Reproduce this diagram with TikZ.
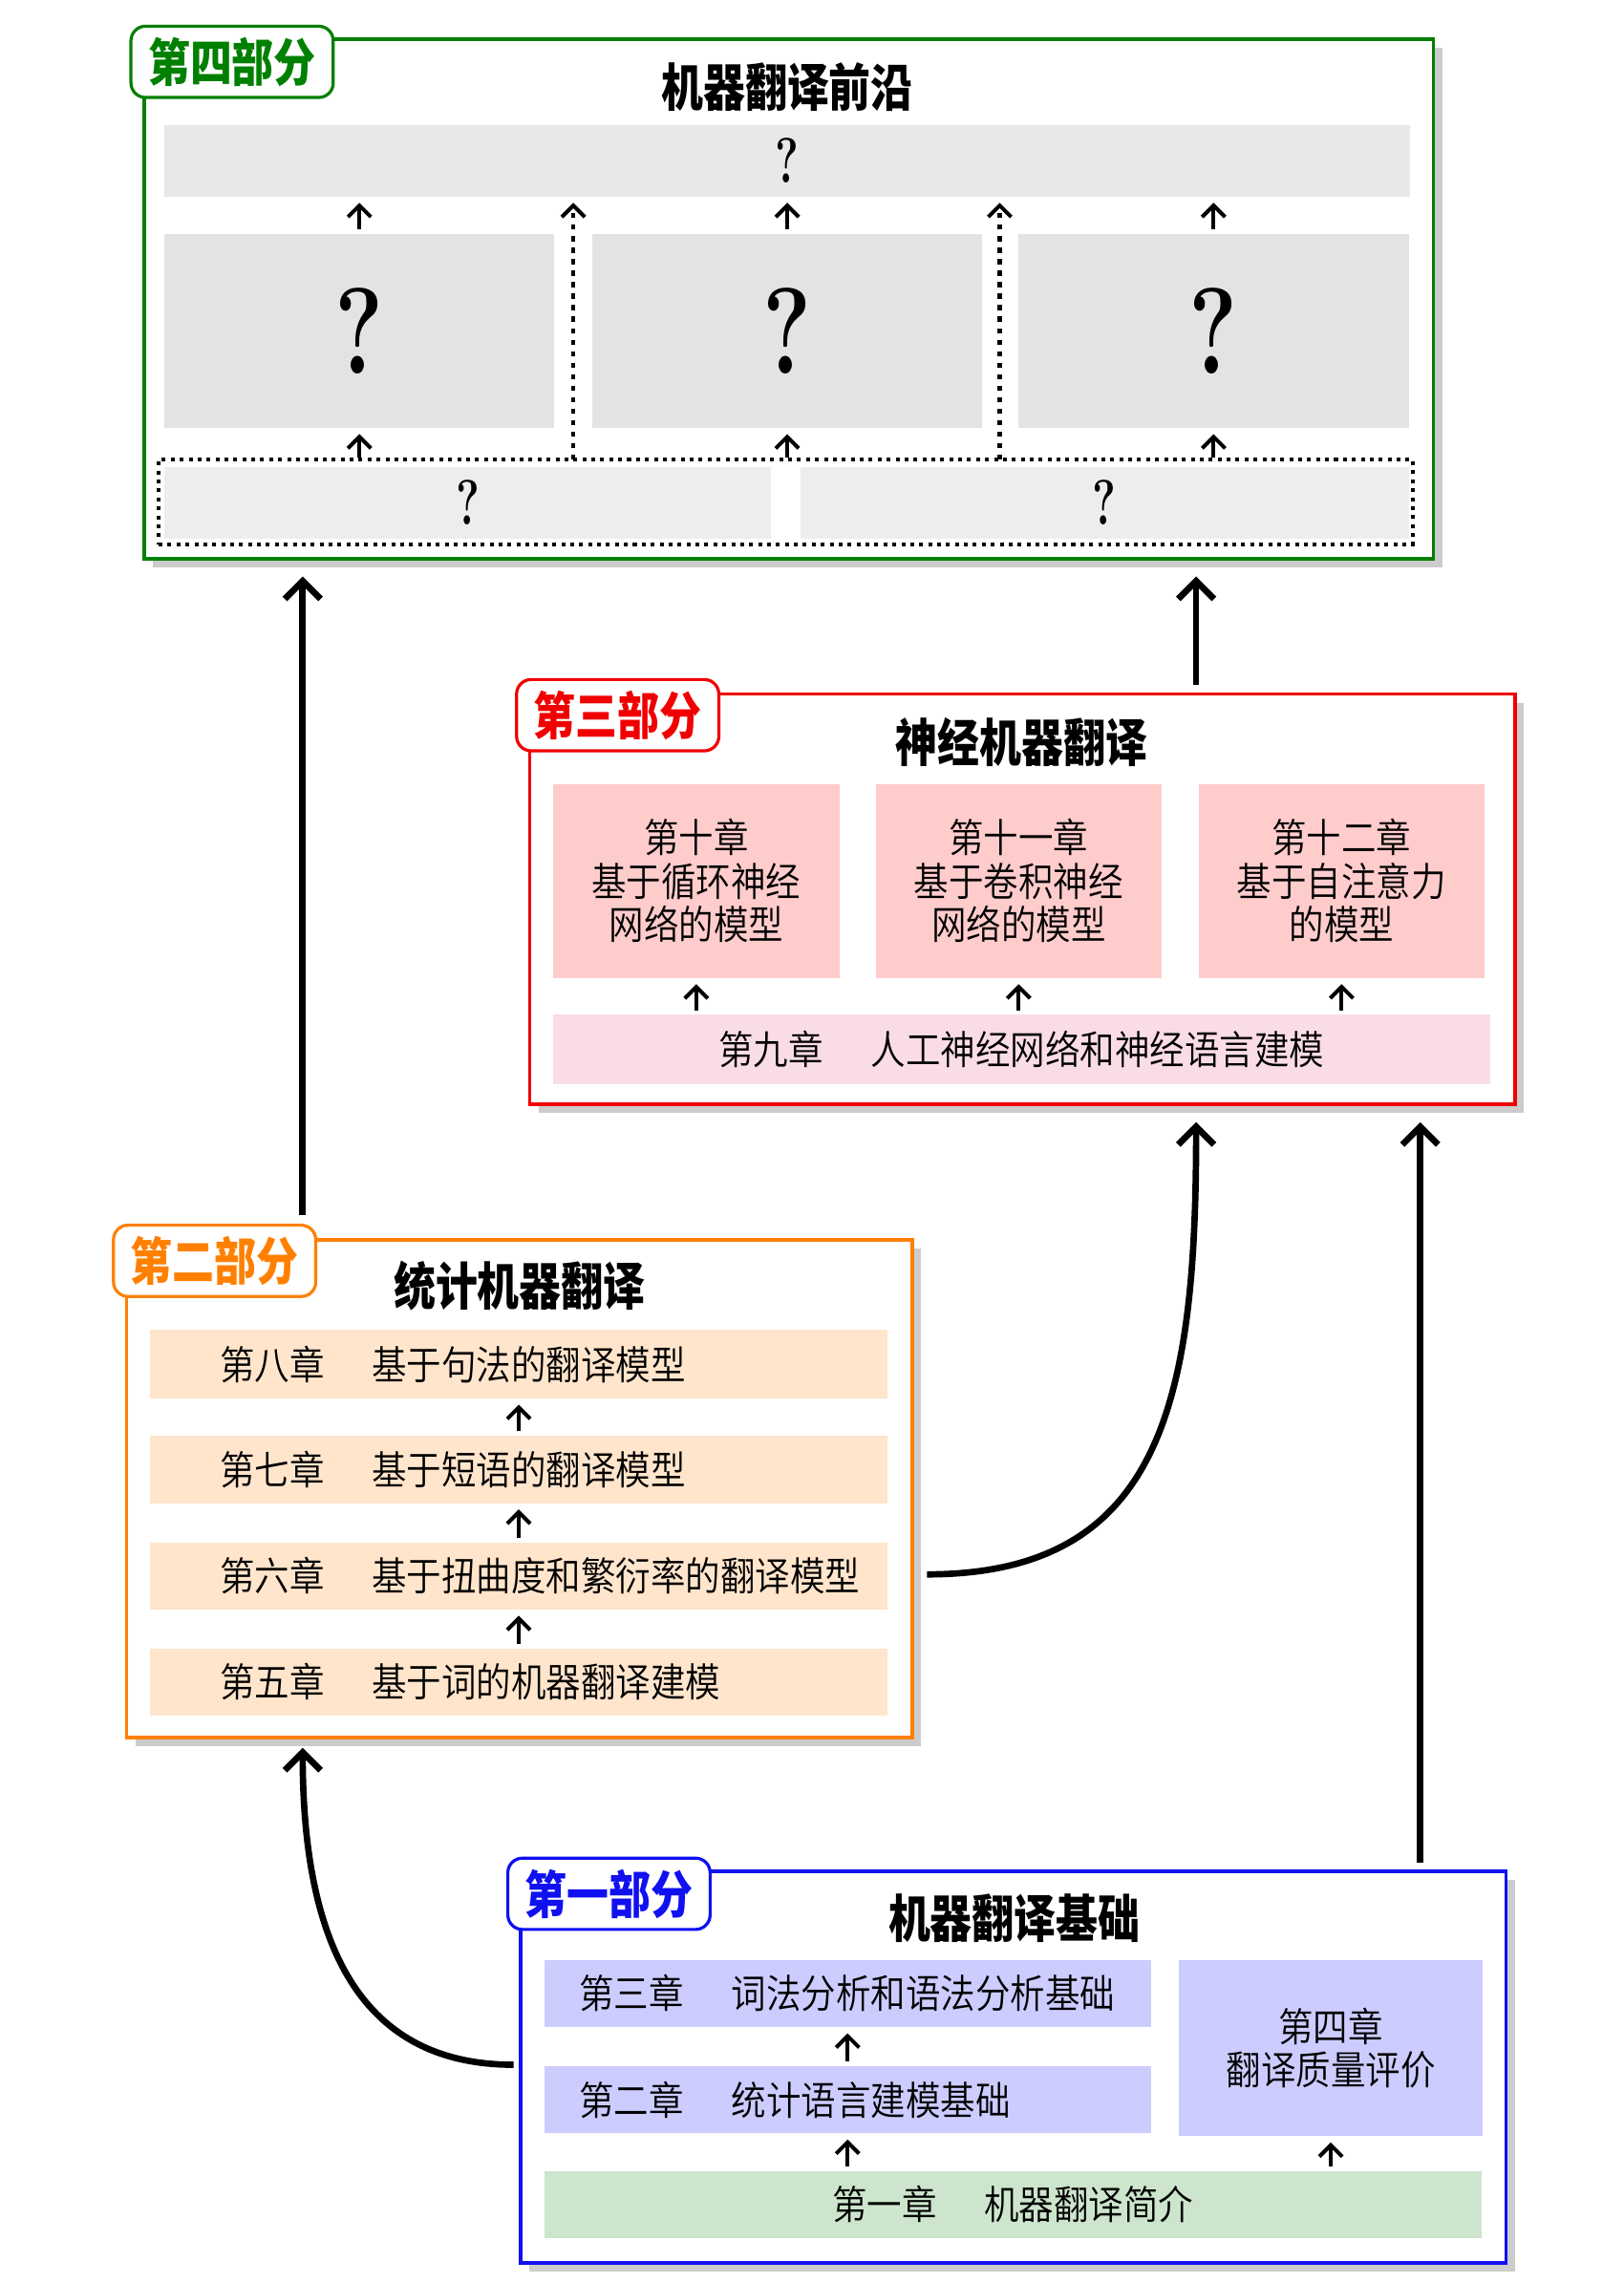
\documentclass[tikz,border=0pt]{standalone}
\usepackage{fontspec}
\usepackage{graphicx}
\usepackage{tikz}
\usetikzlibrary{positioning,arrows.meta,shadows}
\IfFontExistsTF{Noto Sans CJK SC DemiLight}
  {\newfontfamily\cjk[FakeStretch=0.88]{Noto Sans CJK SC DemiLight}}
  {\newfontfamily\cjk[FakeStretch=0.88]{Noto Sans CJK SC}}
\IfFontExistsTF{Noto Sans CJK SC Black}
  {\newfontfamily\cjkb[FakeStretch=0.82]{Noto Sans CJK SC Black}}
  {\newfontfamily\cjkb[FakeStretch=0.82,FakeBold=2]{Noto Sans CJK SC}}

\definecolor{partfour}{HTML}{008000}
\definecolor{partthree}{HTML}{F00000}
\definecolor{parttwo}{HTML}{FF8000}
\definecolor{partone}{HTML}{1010F0}
\definecolor{qtop}{HTML}{E8E8E8}
\definecolor{qmid}{HTML}{E3E3E3}
\definecolor{qlow}{HTML}{EDEDED}
\definecolor{nmt}{HTML}{FFCCCC}
\definecolor{nnlm}{HTML}{F9DCE6}
\definecolor{smt}{HTML}{FFE5CC}
\definecolor{base}{HTML}{CCCCFF}
\definecolor{intro}{HTML}{CCE5CC}

\newcommand{\qsmall}{{\fontsize{25}{25}\selectfont\bfseries\scalebox{0.7}[1]{?}}}
\newcommand{\qbig}{{\fontsize{48}{48}\selectfont\bfseries\scalebox{0.75}[1]{?}}}

\begin{document}
\begin{tikzpicture}[x=0.02cm, y=-0.02cm,
    sz/.style 2 args={minimum width=#1*0.02cm, minimum height=#2*0.02cm},
    partbox/.style={draw=#1, line width=1.4pt, fill=white, inner sep=0pt,
      drop shadow={shadow xshift=0.12cm, shadow yshift=-0.12cm, fill=black!20, opacity=1}},
    parttag/.style={draw=#1, line width=1.2pt, fill=white, rounded corners=0.2cm,
      text=#1, font=\cjkb\fontsize{20}{20}\selectfont, sz={139}{49}, inner sep=0pt},
    parttitle/.style={font=\cjkb\fontsize{20}{20}\selectfont},
    chapbox/.style={fill=#1, inner sep=0pt, align=center, font=\cjk\fontsize{15.5}{17}\selectfont},
    chaptext/.style={inner sep=0pt, anchor=west, font=\cjk\fontsize{15.5}{17}\selectfont},
    uparrow/.style={-{Straight Barb[length=4.5pt,width=9pt]}, line width=1.5pt, shorten >=0.08cm},
    bigarrow/.style={-{Straight Barb[length=7pt,width=14pt]}, line width=2.5pt},
  ]
  \useasboundingbox (0,0) rectangle (1116,1569);

  % part four
  \node[partbox=partfour, sz={886}{357}] (frame4) at (542,205.5) {};
  \node[parttag=partfour] (tag4) at (159.5,42.5) {第四部分};
  \node[parttitle] (title4) at (541,60) {机器翻译前沿};
  \node[fill=qtop, inner sep=0pt, sz={856}{49}] (top4) at (541,110.5) {\qsmall};
  \node[fill=qmid, inner sep=0pt, sz={268}{133}] (q4a) at (247,227.5) {\qbig};
  \node[fill=qmid, inner sep=0pt, sz={268}{133}] (q4b) at (541,227.5) {\qbig};
  \node[fill=qmid, inner sep=0pt, sz={268}{133}] (q4c) at (834,227.5) {\qbig};
  \node[draw, dash pattern=on 1.5pt off 2pt, line width=1.5pt, inner sep=0pt, sz={862}{58}] (low4) at (540,345) {};
  \node[fill=qlow, inner sep=0pt, sz={417}{49}] (low4a) at (321.5,345.5) {\qsmall};
  \node[fill=qlow, inner sep=0pt, sz={418}{49}] (low4b) at (759,345.5) {\qsmall};
  \coordinate (gapl) at (394,316);
  \coordinate (gapr) at (687,316);
  \path[uparrow]
  (low4.north -| q4a) edge (q4a)
  (low4.north -| q4b) edge (q4b)
  (low4.north -| q4c) edge (q4c);
  \path[uparrow, shorten <=0.06cm]
  (q4a) edge (q4a |- top4.south)
  (q4b) edge (q4b |- top4.south)
  (q4c) edge (q4c |- top4.south);
  \path[uparrow, dash pattern=on 2pt off 2.5pt]
  (gapl) edge (gapl |- top4.south)
  (gapr) edge (gapr |- top4.south);

  % part three
  \node[partbox=partthree, sz={677}{282}] (frame3) at (702.5,618) {};
  \node[parttag=partthree] (tag3) at (424.5,491.5) {第三部分};
  \node[parttitle] (title3) at (702,510) {神经机器翻译};
  \node[chapbox=nmt, sz={197}{133}] (ch10) at (478.5,605.5) {第十章\\基于循环神经\\网络的模型};
  \node[chapbox=nmt, sz={196}{133}] (ch11) at (700,605.5) {第十一章\\基于卷积神经\\网络的模型};
  \node[chapbox=nmt, sz={196}{133}] (ch12) at (922,605.5) {第十二章\\基于自注意力\\的模型};
  \node[chapbox=nnlm, sz={644}{48}] (ch9) at (702,721) {第九章\hspace{1.2em}人工神经网络和神经语言建模};
  \path[uparrow, shorten <=0.04cm]
  (ch9.north -| ch10) edge (ch10)
  (ch9.north -| ch11) edge (ch11)
  (ch9.north -| ch12) edge (ch12);

  % part two
  \node[partbox=parttwo, sz={540}{342}] (frame2) at (357,1023) {};
  \node[parttag=parttwo] (tag2) at (147.5,866.5) {第二部分};
  \node[parttitle] (title2) at (357,884) {统计机器翻译};
  \node[chapbox=smt, sz={507}{47}] (ch8) at (356.5,937.5) {};
  \node[chapbox=smt, sz={507}{46}] (ch7) at (356.5,1010) {};
  \node[chapbox=smt, sz={507}{46}] (ch6) at (356.5,1083) {};
  \node[chapbox=smt, sz={507}{46}] (ch5) at (356.5,1156) {};
  \node[chaptext] (t8) at ([xshift=0.96cm]ch8.west) {第八章\hspace{1.2em}基于句法的翻译模型};
  \node[chaptext] (t7) at ([xshift=0.96cm]ch7.west) {第七章\hspace{1.2em}基于短语的翻译模型};
  \node[chaptext] (t6) at ([xshift=0.96cm]ch6.west) {第六章\hspace{1.2em}基于扭曲度和繁衍率的翻译模型};
  \node[chaptext] (t5) at ([xshift=0.96cm]ch5.west) {第五章\hspace{1.2em}基于词的机器翻译建模};
  \path[uparrow, shorten <=0.06cm]
  (ch5) edge (ch6)
  (ch6) edge (ch7)
  (ch7) edge (ch8);

  % part one
  \node[partbox=partone, sz={677}{269}] (frame1) at (696.5,1420.5) {};
  \node[parttag=partone] (tag1) at (418.5,1301.5) {第一部分};
  \node[parttitle] (title1) at (697,1318) {机器翻译基础};
  \node[chapbox=base, sz={417}{46}] (ch3) at (582.5,1370) {};
  \node[chapbox=base, sz={417}{46}] (ch2) at (582.5,1443) {};
  \node[chaptext] (t3) at ([xshift=0.48cm]ch3.west) {第三章\hspace{1.2em}词法分析和语法分析基础};
  \node[chaptext] (t2) at ([xshift=0.48cm]ch2.west) {第二章\hspace{1.2em}统计语言建模基础};
  \node[chapbox=base, sz={209}{121}] (ch4) at (914.5,1407.5) {第四章\\翻译质量评价};
  \node[chapbox=intro, sz={644}{46}] (ch1) at (696,1515) {第一章\hspace{1.2em}机器翻译简介};
  \path[uparrow, shorten <=0.06cm]
  (ch2) edge (ch3)
  (ch1.north -| ch2) edge (ch2)
  (ch1.north -| ch4) edge (ch4);

  % links between the parts
  \coordinate (top2) at (208,835);
  \coordinate (top3) at (822,471);
  \coordinate (top1) at (976,1280);
  \coordinate (out2) at (637,1082);
  \coordinate (out1) at (353,1419);
  \draw[bigarrow, shorten >=0.22cm] (top2) -- (top2 |- frame4.south);
  \draw[bigarrow, shorten >=0.22cm] (top3) -- (top3 |- frame4.south);
  \draw[bigarrow, shorten >=0.22cm] (top1) -- (top1 |- frame3.south);
  \draw[bigarrow, shorten >=0.22cm] (out2) .. controls (800,1082) and (822,960) .. (top3 |- frame3.south);
  \draw[bigarrow, shorten >=0.12cm] (out1) .. controls (250,1419) and (208,1340) .. (top2 |- frame2.south);
\end{tikzpicture}
\end{document}
